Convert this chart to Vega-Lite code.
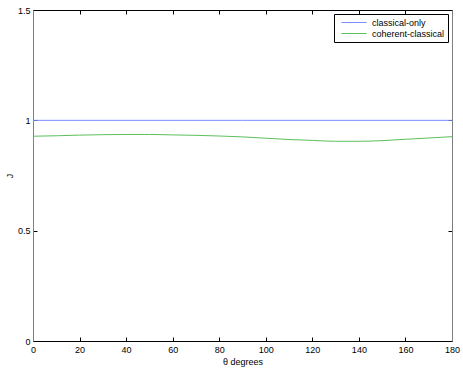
{
  "$schema": "https://vega.github.io/schema/vega-lite/v6.json",
  "autosize": "none",
  "width": 419,
  "height": 331,
  "padding": {"left": 33, "top": 10, "right": 11, "bottom": 28},
  "background": "white",
  "config": {
    "font": "Liberation Sans",
    "view": {"stroke": null},
    "axis": {
      "domainColor": "black",
      "tickColor": "black",
      "grid": false,
      "labelFlush": false,
      "labelOverlap": false,
      "labelFont": "Liberation Sans",
      "labelFontSize": 9,
      "labelColor": "black",
      "titleFont": "Liberation Sans",
      "titleFontSize": 9,
      "titleFontWeight": "normal",
      "titleColor": "black"
    }
  },
  "data": {
    "values": [
      {"theta": 0, "J": 1, "series": "classical-only"},
      {"theta": 90, "J": 1, "series": "classical-only"},
      {"theta": 180, "J": 1, "series": "classical-only"},
      {"theta": 0, "J": 0.928, "series": "coherent-classical"},
      {"theta": 10, "J": 0.930, "series": "coherent-classical"},
      {"theta": 20, "J": 0.933, "series": "coherent-classical"},
      {"theta": 30, "J": 0.935, "series": "coherent-classical"},
      {"theta": 40, "J": 0.936, "series": "coherent-classical"},
      {"theta": 50, "J": 0.936, "series": "coherent-classical"},
      {"theta": 60, "J": 0.934, "series": "coherent-classical"},
      {"theta": 70, "J": 0.932, "series": "coherent-classical"},
      {"theta": 80, "J": 0.929, "series": "coherent-classical"},
      {"theta": 90, "J": 0.925, "series": "coherent-classical"},
      {"theta": 100, "J": 0.919, "series": "coherent-classical"},
      {"theta": 110, "J": 0.913, "series": "coherent-classical"},
      {"theta": 120, "J": 0.909, "series": "coherent-classical"},
      {"theta": 130, "J": 0.905, "series": "coherent-classical"},
      {"theta": 140, "J": 0.905, "series": "coherent-classical"},
      {"theta": 150, "J": 0.908, "series": "coherent-classical"},
      {"theta": 160, "J": 0.914, "series": "coherent-classical"},
      {"theta": 170, "J": 0.920, "series": "coherent-classical"},
      {"theta": 180, "J": 0.926, "series": "coherent-classical"}
    ]
  },
  "resolve": {"axis": {"x": "independent", "y": "independent"}},
  "layer": [
    {
      "mark": {"type": "line", "strokeWidth": 1, "interpolate": "monotone"},
      "encoding": {
        "x": {"field": "theta", "type": "quantitative",
              "scale": {"domain": [0, 180], "nice": false, "zero": false},
              "axis": {"orient": "bottom", "values": [0,20,40,60,80,100,120,140,160,180], "tickSize": -4, "labelPadding": 8, "title": "θ degrees", "titlePadding": 3}},
        "y": {"field": "J", "type": "quantitative",
              "scale": {"domain": [0, 1.5], "nice": false},
              "axis": {"orient": "left", "domainColor": "#808080", "values": [0, 0.5, 1, 1.5], "format": ".1~f", "tickSize": -4, "labelPadding": 7, "title": "J", "titlePadding": 3}},
        "color": {"field": "series", "type": "nominal",
                  "scale": {"domain": ["classical-only", "coherent-classical"], "range": ["#7a8cff", "#5cc05c"]},
                  "legend": {"title": null, "orient": "top-right", "offset": 4, "fillColor": "white", "strokeColor": "black", "padding": 3, "symbolType": "M-2.5,0H2.5", "symbolSize": 100, "symbolStrokeWidth": 1, "labelFontSize": 9, "labelFont": "Liberation Sans", "rowPadding": 0, "labelOffset": 12.5, "symbolOffset": 11.5}}
      }
    },
    {
      "mark": {"type": "rule", "opacity": 0},
      "encoding": {
        "x": {"field": "theta", "type": "quantitative",
              "axis": {"orient": "top", "values": [0,20,40,60,80,100,120,140,160,180], "tickSize": -4, "labels": false, "title": null}},
        "y": {"field": "J", "type": "quantitative",
              "axis": {"orient": "right", "domainColor": "#808080", "values": [0, 0.5, 1, 1.5], "tickSize": -4, "labels": false, "title": null}}
      }
    }
  ]
}
